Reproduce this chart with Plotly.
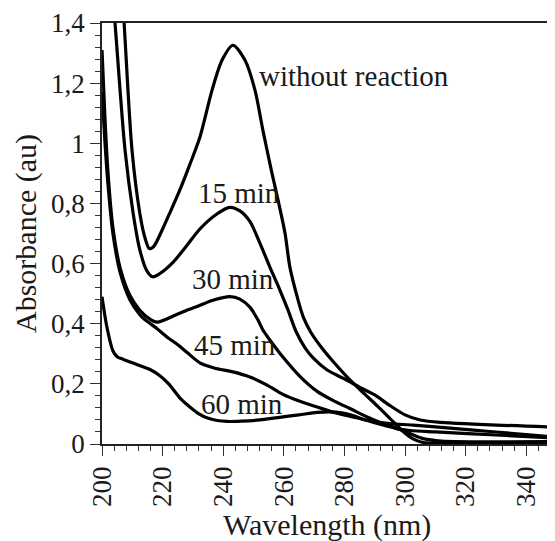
import plotly.graph_objects as go

# ---- data ----
wl_without = [205.0, 207.3, 209.9, 212.5, 214.2, 215.6, 217.0, 220.0, 222.0, 225.7, 229.0, 232.3, 236.3, 239.6,
              243.2, 247.2, 250.5, 253.1, 256.1, 258.1, 260.4, 262.0, 264.4, 266.5, 269.0, 272.5, 276.2,
              281.8, 286.8, 291.0, 295.0, 299.0, 302.5, 306.0, 315.0, 349.0]
abs_without = [1.775, 1.40, 0.977, 0.766, 0.685, 0.65, 0.656, 0.715, 0.76, 0.845, 0.93, 1.02, 1.176, 1.276,
               1.326, 1.276, 1.176, 1.043, 0.900, 0.811, 0.701, 0.588, 0.49, 0.42, 0.37, 0.32, 0.275,
               0.213, 0.165, 0.125, 0.085, 0.045, 0.018, 0.005, 0.003, 0.003]

wl_15 = [202.5, 204.3, 207.6, 210.3, 212.5, 214.7, 216.7, 219.1, 223.5, 228.0, 232.3, 237.9, 242.2,
         245.5, 248.8, 252.1, 255.4, 258.7, 261.4, 264.0, 267.0, 270.0, 274.3, 279.5, 282.0, 285.1,
         290.0, 295.0, 300.0, 305.0, 311.6, 349.5]
abs_15 = [1.63, 1.40, 0.977, 0.766, 0.645, 0.578, 0.556, 0.567, 0.605, 0.66, 0.715, 0.765, 0.787,
          0.775, 0.740, 0.668, 0.588, 0.512, 0.445, 0.375, 0.32, 0.283, 0.246, 0.219, 0.206, 0.188,
          0.163, 0.128, 0.097, 0.08, 0.072, 0.056]

wl_30 = [200.0, 201.0, 202.0, 203.6, 206.0, 209.2, 212.5, 215.8, 218.2, 224.1, 228.0, 232.0, 236.6,
         242.2, 245.5, 248.8, 251.5, 253.1, 255.4, 259.7, 265.3, 271.0, 276.2, 281.8, 287.5, 292.7,
         298.3, 302.0, 306.0, 312.0, 349.0]
abs_30 = [1.31, 1.08, 0.90, 0.72, 0.585, 0.495, 0.445, 0.415, 0.405, 0.428, 0.445, 0.46, 0.478,
          0.49, 0.482, 0.455, 0.412, 0.379, 0.346, 0.289, 0.225, 0.175, 0.145, 0.118, 0.09, 0.068,
          0.048, 0.033, 0.018, 0.01, 0.008]

wl_45 = [200.0, 201.0, 202.0, 203.6, 206.0, 209.2, 212.5, 214.0, 216.0, 218.0, 221.4, 225.0, 228.0,
         232.3, 237.0, 243.2, 248.8, 254.5, 259.7, 265.3, 271.0, 276.2, 282.0, 288.0, 295.0,
         302.6, 312.0, 330.0, 349.5]
abs_45 = [1.17, 1.0, 0.86, 0.70, 0.57, 0.48, 0.43, 0.415, 0.40, 0.385, 0.356, 0.33, 0.305,
          0.27, 0.253, 0.24, 0.223, 0.196, 0.165, 0.142, 0.123, 0.106, 0.092, 0.078, 0.068,
          0.063, 0.055, 0.04, 0.023]

wl_60 = [200.0, 201.6, 203.6, 205.0, 206.9, 210.0, 213.5, 216.0, 219.0, 222.0, 226.0, 229.0, 232.0,
         234.6, 238.0, 241.3, 246.0, 252.1, 258.0, 265.0, 271.0, 275.2, 279.0, 282.0, 287.0, 292.7,
         297.0, 301.7, 310.0, 330.0, 349.5]
abs_60 = [0.49, 0.39, 0.31, 0.29, 0.282, 0.27, 0.257, 0.247, 0.228, 0.20, 0.15, 0.123, 0.10,
          0.087, 0.078, 0.075, 0.076, 0.08, 0.088, 0.097, 0.105, 0.107, 0.104, 0.097, 0.08, 0.063,
          0.052, 0.045, 0.04, 0.03, 0.02]

series = [
    ("without reaction", wl_without, abs_without),
    ("15 min", wl_15, abs_15),
    ("30 min", wl_30, abs_30),
    ("45 min", wl_45, abs_45),
    ("60 min", wl_60, abs_60),
]

# label anchor positions (wavelength, absorbance) for curve labels
label_text = ["without reaction", "15 min", "30 min", "45 min", "60 min"]
label_wl = [251.3, 231.0, 229.0, 229.6, 232.0]
label_abs = [1.225, 0.835, 0.548, 0.33, 0.132]

y_tickvals = [0, 0.2, 0.4, 0.6, 0.8, 1.0, 1.2, 1.4]
y_ticktext = ["0", "0,2", "0,4", "0,6", "0,8", "1", "1,2", "1,4"]
x_tickvals = [200, 220, 240, 260, 280, 300, 320, 340]
x_ticktext = ["200", "220", "240", "260", "280", "300", "320", "340"]

x_title = "Wavelength (nm)"
y_title = "Absorbance (au)"

FONT = "Liberation Serif, Times New Roman, DejaVu Serif, serif"

fig = go.Figure()
for name, xs, ys in series:
    fig.add_trace(go.Scatter(
        x=xs, y=ys, mode="lines", name=name,
        line=dict(color="black", width=3.2, shape="spline", smoothing=0.8),
        showlegend=False, hoverinfo="skip",
    ))

for t, lx, ly in zip(label_text, label_wl, label_abs):
    fig.add_annotation(x=lx, y=ly, xref="x", yref="y", text=t, showarrow=False,
                       xanchor="left", yanchor="middle",
                       font=dict(family=FONT, size=29, color="#1a1a1a"))

# axis titles
fig.add_annotation(x=0.5, y=-0.148, xref="paper", yref="paper", text=x_title, showarrow=False,
                   xanchor="center", yanchor="top",
                   font=dict(family=FONT, size=30, color="#1a1a1a"))
fig.add_annotation(x=-0.17, y=0.5, xref="paper", yref="paper", text=y_title, showarrow=False,
                   xanchor="center", yanchor="middle", textangle=-90, borderpad=0,
                   font=dict(family=FONT, size=30, color="#1a1a1a"))

axis_common = dict(
    showgrid=False, zeroline=False, showline=True, linecolor="#222", linewidth=1.6,
    mirror=True, ticks="outside", ticklen=10, tickwidth=1.4, tickcolor="#333",
    tickfont=dict(family=FONT, size=27, color="#1a1a1a"), automargin=False,
)

fig.update_xaxes(
    range=[200, 348.5], tickvals=x_tickvals, ticktext=x_ticktext, tickangle=-90,
    minor=dict(ticks="outside", ticklen=5, dtick=4, tick0=200, tickcolor="#333", tickwidth=1.2),
    **axis_common,
)
fig.update_yaxes(
    range=[0, 1.4], tickvals=y_tickvals, ticktext=y_ticktext,
    minor=dict(ticks="outside", ticklen=5, dtick=0.04, tick0=0, tickcolor="#333", tickwidth=1.2),
    **axis_common,
)

# page body has an 8px margin; figure margins compensate so the plot area
# lands at x 102..552, y 23..444 in the window
fig.update_layout(
    width=555, height=541,
    margin=dict(l=94, r=11, t=15, b=105),
    paper_bgcolor="white", plot_bgcolor="white",
)

fig.write_html("out.html")
